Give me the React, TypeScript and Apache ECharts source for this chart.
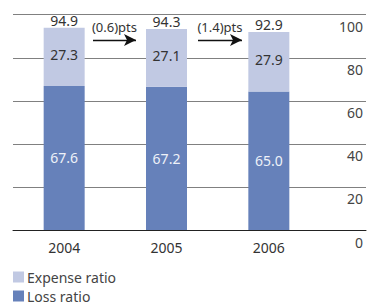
import React, { useEffect, useRef } from "react";
import * as echarts from "echarts";

const years = ["2004", "2005", "2006"];
const lossRatio = [67.6, 67.2, 65.0];
const expenseRatio = [27.3, 27.1, 27.9];
const combined = [94.9, 94.3, 92.9];
const changeLabels = ["(0.6)pts", "(1.4)pts"];
const yTicks = { min: 0, max: 100, interval: 20 };

const FONT = "Noto Sans";

export default function App() {
  const ref = useRef<HTMLDivElement>(null);
  useEffect(() => {
    if (!ref.current) return;
    const chart = echarts.init(ref.current, null, { renderer: "svg" });
    const arrowLine = (x1: number, x2: number, y: number, text: string) => ({
      symbol: ["none", "arrow"],
      symbolSize: [9, 12],
      lineStyle: { color: "#111", width: 1.3, type: "solid" },
      label: {
        show: true,
        position: "middle",
        formatter: text,
        color: "#333",
        fontSize: 13,
        fontFamily: FONT,
        distance: 7,
      },
      data: [[{ x: x1, y }, { x: x2, y }]],
    });
    const legendBase = {
      left: 13,
      padding: 0,
      itemWidth: 11,
      itemHeight: 11,
      icon: "rect",
      textStyle: {
        fontSize: 14,
        lineHeight: 14,
        color: "#444",
        fontFamily: FONT,
        padding: [0, 0, 0, -2],
      },
    };
    chart.setOption({
      animation: false,
      textStyle: { fontFamily: FONT },
      legend: [
        { ...legendBase, top: 270, data: ["Expense ratio"] },
        { ...legendBase, top: 289, data: ["Loss ratio"] },
      ],
      grid: [
        { left: 13, right: 49, top: 14.7, bottom: 74 },
        { left: 13, right: 3, top: 14.7, bottom: 74 },
      ],
      xAxis: [
        {
          type: "category",
          gridIndex: 0,
          data: years,
          axisLine: { show: false },
          axisTick: { show: false },
          axisLabel: { fontSize: 14, color: "#333", margin: 10, fontFamily: FONT },
        },
        {
          type: "value",
          gridIndex: 1,
          min: 0,
          max: 1,
          axisLine: { show: true, onZero: false, lineStyle: { color: "#222", width: 1 } },
          axisTick: { show: false },
          axisLabel: { show: false },
          splitLine: { show: false },
        },
      ],
      yAxis: [
        {
          type: "value",
          gridIndex: 0,
          min: 0,
          max: 101,
          show: false,
          splitLine: { show: false },
        },
        {
          type: "value",
          gridIndex: 1,
          position: "right",
          min: yTicks.min,
          max: yTicks.max,
          interval: yTicks.interval,
          axisLine: { show: false },
          axisTick: { show: false },
          splitLine: { lineStyle: { color: "#808080", width: 1 } },
          axisLabel: {
            inside: true,
            margin: 3,
            fontSize: 14,
            color: "#444",
            fontFamily: FONT,
            verticalAlign: "top",
            lineHeight: 24,
          },
        },
      ],
      series: [
        {
          name: "Loss ratio",
          type: "bar",
          stack: "total",
          xAxisIndex: 0,
          yAxisIndex: 0,
          barWidth: 41,
          data: lossRatio,
          itemStyle: { color: "#6681ba" },
          label: {
            show: true,
            position: "inside",
            color: "#eef1f8",
            fontSize: 14,
            fontFamily: FONT,
            formatter: (p: any) => p.value.toFixed(1),
          },
          markLine: {
            silent: true,
            ...arrowLine(93, 136, 40, changeLabels[0]),
          },
        },
        {
          name: "Expense ratio",
          type: "bar",
          stack: "total",
          xAxisIndex: 0,
          yAxisIndex: 0,
          barWidth: 41,
          data: expenseRatio,
          itemStyle: { color: "#c1c9e3" },
          label: {
            show: true,
            position: "inside",
            color: "#333",
            fontSize: 14,
            fontFamily: FONT,
            offset: [0, -2],
            formatter: (p: any) => p.value.toFixed(1),
          },
          markLine: {
            silent: true,
            ...arrowLine(198, 242, 40, changeLabels[1]),
          },
        },
        {
          name: "total",
          type: "bar",
          stack: "total",
          xAxisIndex: 0,
          yAxisIndex: 0,
          barWidth: 41,
          data: combined.map(() => 0),
          itemStyle: { color: "transparent" },
          label: {
            show: true,
            position: "top",
            distance: 0,
            color: "#333",
            fontSize: 14,
            fontFamily: FONT,
            formatter: (p: any) => combined[p.dataIndex].toFixed(1),
          },
        },
      ],
    });
    return () => chart.dispose();
  }, []);
  return (
    <div
      ref={ref}
      style={{ position: "absolute", left: 0, top: 0, width: 369, height: 304 }}
    />
  );
}
